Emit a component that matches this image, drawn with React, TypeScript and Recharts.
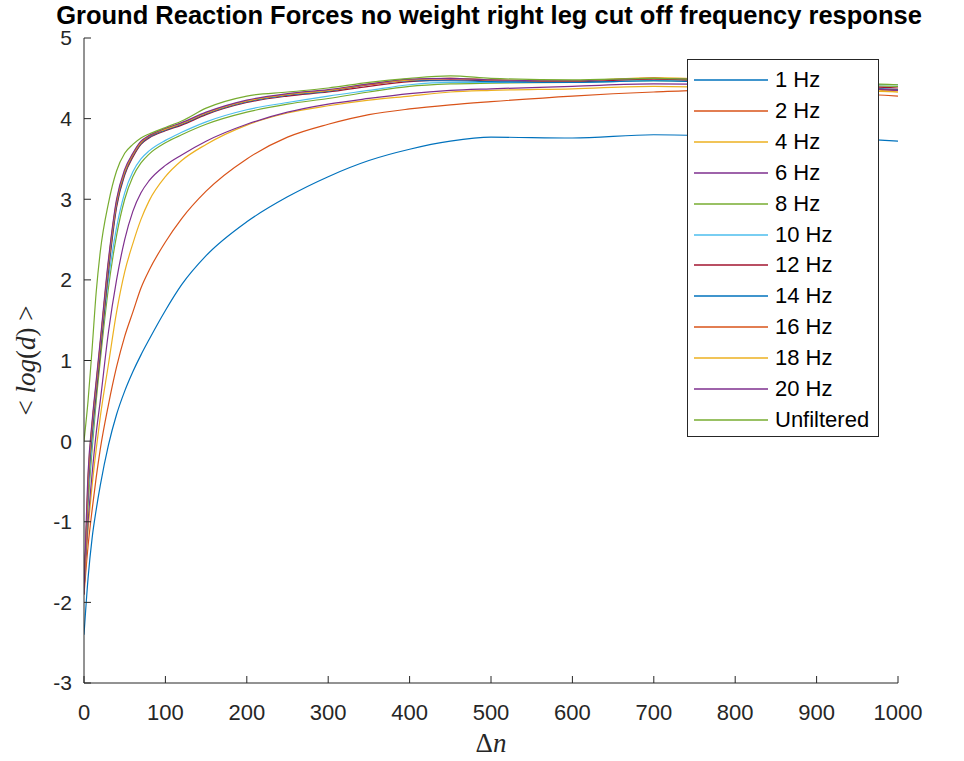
import { Legend, Line, LineChart, XAxis, YAxis } from 'recharts'

// Δn samples shared by every curve
const deltaN = [0, 5, 10, 15, 20, 30, 40, 50, 60, 70, 80, 100, 120, 150, 200, 250, 300, 350, 400, 450, 500, 600, 700, 800, 900, 1000]

const hz1 = [-2.4, -1.7, -1.2, -0.85, -0.55, -0.05, 0.33, 0.62, 0.86, 1.07, 1.26, 1.62, 1.94, 2.3, 2.72, 3.03, 3.28, 3.48, 3.62, 3.72, 3.77, 3.76, 3.8, 3.78, 3.77, 3.72]
const hz2 = [-1.9, -1.3, -0.85, -0.45, -0.1, 0.45, 0.92, 1.3, 1.6, 1.9, 2.12, 2.47, 2.76, 3.1, 3.5, 3.77, 3.93, 4.05, 4.12, 4.17, 4.21, 4.28, 4.33, 4.36, 4.33, 4.28]
const hz4 = [-1.8, -1.1, -0.55, -0.1, 0.3, 0.95, 1.6, 2.1, 2.45, 2.75, 2.98, 3.28, 3.48, 3.68, 3.92, 4.07, 4.16, 4.23, 4.28, 4.33, 4.35, 4.37, 4.4, 4.38, 4.36, 4.33]
const hz6 = [-1.8, -1.0, -0.4, 0.1, 0.5, 1.35, 2.0, 2.5, 2.85, 3.08, 3.23, 3.42, 3.55, 3.72, 3.93, 4.08, 4.18, 4.25, 4.31, 4.35, 4.37, 4.4, 4.43, 4.42, 4.4, 4.36]
const hz8 = [-1.8, -0.8, -0.1, 0.5, 1.0, 1.9, 2.55, 3.0, 3.28, 3.45, 3.56, 3.7, 3.8, 3.93, 4.08, 4.18, 4.25, 4.33, 4.4, 4.43, 4.44, 4.45, 4.47, 4.45, 4.42, 4.4]
const hz10 = [-1.8, -0.7, 0.0, 0.6, 1.1, 2.0, 2.65, 3.08, 3.34, 3.5, 3.6, 3.73, 3.83, 3.96, 4.11, 4.2, 4.28, 4.35, 4.42, 4.45, 4.45, 4.45, 4.47, 4.46, 4.43, 4.42]
const hz12 = [-1.9, -0.6, 0.1, 0.6, 1.1, 2.1, 2.9, 3.3, 3.52, 3.68, 3.76, 3.85, 3.92, 4.05, 4.2, 4.28, 4.33, 4.4, 4.46, 4.48, 4.47, 4.46, 4.49, 4.45, 4.42, 4.38]
const hz14 = [-1.9, -0.55, 0.15, 0.65, 1.15, 2.15, 2.93, 3.32, 3.54, 3.69, 3.77, 3.86, 3.93, 4.06, 4.21, 4.29, 4.34, 4.42, 4.47, 4.47, 4.46, 4.45, 4.47, 4.44, 4.4, 4.36]
const hz16 = [-1.9, -0.5, 0.2, 0.7, 1.2, 2.2, 2.96, 3.34, 3.55, 3.7, 3.78, 3.87, 3.94, 4.07, 4.22, 4.3, 4.35, 4.42, 4.48, 4.5, 4.48, 4.47, 4.5, 4.46, 4.41, 4.35]
const hz18 = [-1.9, -0.45, 0.22, 0.72, 1.22, 2.22, 2.98, 3.35, 3.56, 3.71, 3.79, 3.87, 3.94, 4.07, 4.22, 4.3, 4.35, 4.43, 4.48, 4.5, 4.48, 4.47, 4.51, 4.47, 4.42, 4.33]
const hz20 = [-1.9, -0.4, 0.25, 0.75, 1.25, 2.25, 3.0, 3.37, 3.57, 3.72, 3.79, 3.88, 3.95, 4.08, 4.23, 4.31, 4.36, 4.43, 4.49, 4.5, 4.48, 4.47, 4.5, 4.46, 4.41, 4.35]
const unfiltered = [0.0, 0.5, 1.15, 1.85, 2.35, 2.95, 3.35, 3.57, 3.68, 3.76, 3.81, 3.89, 3.97, 4.13, 4.28, 4.33, 4.38, 4.45, 4.5, 4.53, 4.5, 4.48, 4.5, 4.47, 4.45, 4.42]

const seriesNames = ['1 Hz', '2 Hz', '4 Hz', '6 Hz', '8 Hz', '10 Hz', '12 Hz', '14 Hz', '16 Hz', '18 Hz', '20 Hz', 'Unfiltered']
const seriesValues = [hz1, hz2, hz4, hz6, hz8, hz10, hz12, hz14, hz16, hz18, hz20, unfiltered]
const seriesColors = ['#0072BD', '#D95319', '#EDB120', '#7E2F8E', '#77AC30', '#4DBEEE', '#A2142F', '#0072BD', '#D95319', '#EDB120', '#7E2F8E', '#77AC30']

const xTicks = [0, 100, 200, 300, 400, 500, 600, 700, 800, 900, 1000]
const yTicks = [-3, -2, -1, 0, 1, 2, 3, 4, 5]

const data = deltaN.map((n, i) => {
  const row: Record<string, number> = { n }
  seriesNames.forEach((name, s) => {
    row[name] = seriesValues[s][i]
  })
  return row
})

const SANS = '"Liberation Sans", Arial, Helvetica, sans-serif'
const SERIF = '"Liberation Serif", "Times New Roman", serif'
const AXIS = '#262626'

const renderLegend = () => (
  <div
    style={{
      width: 192,
      height: 378,
      border: '1px solid #262626',
      background: '#fff',
      boxSizing: 'border-box',
      position: 'relative',
      fontFamily: SANS,
      fontSize: 22,
      color: '#000',
    }}
  >
    {seriesNames.map((name, i) => (
      <div
        key={name}
        style={{ position: 'absolute', left: 0, top: 5 + i * 30.9, height: 30, display: 'flex', alignItems: 'center' }}
      >
        <svg width={82} height={30}>
          <line x1={6} x2={80} y1={15} y2={15} stroke={seriesColors[i]} strokeWidth={1.3} />
        </svg>
        <span style={{ marginLeft: 5, lineHeight: '30px' }}>{name}</span>
      </div>
    ))}
  </div>
)

const XLabel = (props: any) => {
  const { viewBox } = props
  const cx = viewBox.x + viewBox.width / 2
  return (
    <text x={cx} y={752} textAnchor="middle" fontFamily={SERIF} fontSize={27} fill={AXIS}>
      Δ<tspan fontStyle="italic">n</tspan>
    </text>
  )
}

const YLabel = (props: any) => {
  const { viewBox } = props
  const cy = viewBox.y + viewBox.height / 2
  return (
    <text
      x={35}
      y={cy}
      transform={`rotate(-90 35 ${cy})`}
      textAnchor="middle"
      fontFamily={SERIF}
      fontSize={27}
      fill={AXIS}
    >
      {'< '}
      <tspan fontStyle="italic">log</tspan>(<tspan fontStyle="italic">d</tspan>){' >'}
    </text>
  )
}

export default function App() {
  return (
    <div style={{ position: 'absolute', left: 0, top: 0, width: 964, height: 761, background: '#fff' }}>
      <svg width={964} height={36} style={{ position: 'absolute', left: 0, top: 0 }}>
        <text x={489} y={23.5} textAnchor="middle" fontFamily={SANS} fontWeight="bold" fontSize={25.5} fill="#000">
          Ground Reaction Forces no weight right leg cut off frequency response
        </text>
      </svg>
      <LineChart width={964} height={761} data={data} margin={{ top: 38, right: 66, bottom: 0, left: 0 }}>
        <XAxis
          dataKey="n"
          type="number"
          domain={[0, 1000]}
          ticks={xTicks}
          interval={0}
          height={78}
          tickSize={-7}
          tickMargin={28}
          axisLine={{ stroke: AXIS }}
          tickLine={{ stroke: AXIS }}
          tick={{ fill: AXIS, fontSize: 22, fontFamily: SANS }}
          allowDataOverflow
          label={<XLabel />}
        />
        <XAxis
          xAxisId="top"
          orientation="top"
          type="number"
          domain={[0, 1000]}
          ticks={xTicks}
          interval={0}
          height={0}
          tickSize={-7}
          tick={false}
          axisLine={{ stroke: AXIS }}
          tickLine={{ stroke: AXIS }}
        />
        <YAxis
          type="number"
          domain={[-3, 5]}
          ticks={yTicks}
          interval={0}
          width={84}
          tickSize={-7}
          tickMargin={19}
          axisLine={{ stroke: AXIS }}
          tickLine={{ stroke: AXIS }}
          tick={{ fill: AXIS, fontSize: 21, fontFamily: SANS }}
          allowDataOverflow
          label={<YLabel />}
        />
        <YAxis
          yAxisId="right"
          orientation="right"
          type="number"
          domain={[-3, 5]}
          ticks={yTicks}
          interval={0}
          width={0}
          tickSize={-7}
          tick={false}
          axisLine={{ stroke: AXIS }}
          tickLine={{ stroke: AXIS }}
        />
        {seriesNames.map((name, i) => (
          <Line
            key={name}
            dataKey={name}
            type="monotone"
            stroke={seriesColors[i]}
            strokeWidth={1.2}
            dot={false}
            activeDot={false}
            isAnimationActive={false}
          />
        ))}
        <Legend
          content={renderLegend}
          layout="horizontal"
          verticalAlign="middle"
          align="center"
          wrapperStyle={{ left: 687, top: 59, width: 192, height: 378 }}
        />
      </LineChart>
    </div>
  )
}
